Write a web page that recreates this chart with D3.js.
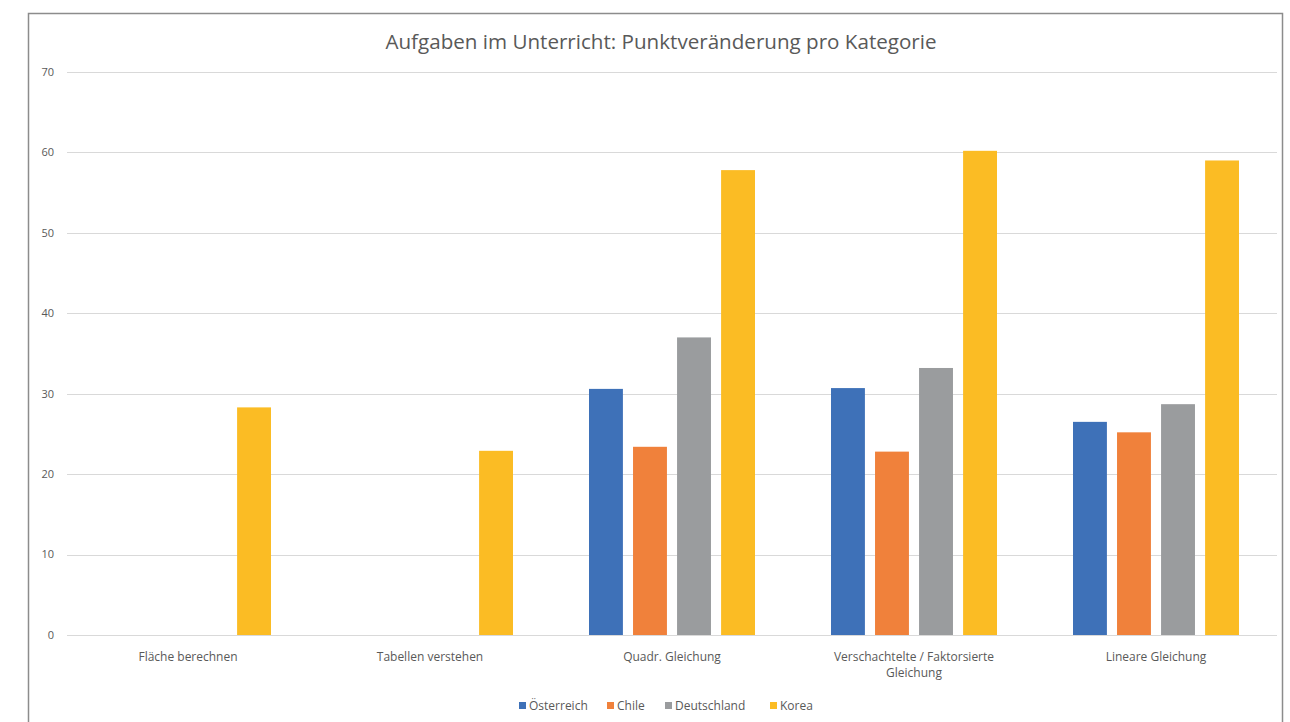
<!DOCTYPE html>
<html><head><meta charset="utf-8">
<script src="https://cdn.jsdelivr.net/npm/d3@7"></script>
<style>
body{margin:0;background:#fff;}
svg{display:block;font-family:"Open Sans","Liberation Sans",sans-serif;}
</style></head>
<body>
<svg id="chart" width="1290" height="722"></svg>
<script>
const categories = [
  ["Fläche berechnen"],
  ["Tabellen verstehen"],
  ["Quadr. Gleichung"],
  ["Verschachtelte / Faktorsierte", "Gleichung"],
  ["Lineare Gleichung"]
];
const seriesNames = ["Österreich", "Chile", "Deutschland", "Korea"];
const oesterreich = [null, null, 30.6, 30.7, 26.5];
const chile       = [null, null, 23.4, 22.8, 25.2];
const deutschland = [null, null, 37.0, 33.2, 28.7];
const korea       = [28.3, 22.9, 57.8, 60.2, 59.0];
const yTicks = [0, 10, 20, 30, 40, 50, 60, 70];
const title = "Aufgaben im Unterricht: Punktveränderung pro Kategorie";

(function () {
const seriesValues = [oesterreich, chile, deutschland, korea];
const colors = ["#3e71b8", "#f0813b", "#9a9c9e", "#fbbc24"];

const svg = d3.select("#chart");
svg.append("rect").attr("x", 28.5).attr("y", 13.5).attr("width", 1254).attr("height", 740)
  .attr("fill", "#fff").attr("stroke", "#8c8c8c").attr("stroke-width", 1.5);

const pl = 67, pr = 1277, pt = 72, pb = 635;
const x0 = d3.scaleBand().domain(d3.range(categories.length)).range([pl, pr]).padding(0);
const groupHalf = 83;
const x1 = d3.scaleBand().domain(d3.range(seriesNames.length)).range([-groupHalf, groupHalf]).paddingInner(0.23).paddingOuter(0);
const y = d3.scaleLinear().domain([0, 70]).range([pb, pt]);

svg.append("g").selectAll("line").data(yTicks).join("line")
  .attr("x1", pl).attr("x2", pr)
  .attr("y1", d => Math.round(y(d)) + 0.5).attr("y2", d => Math.round(y(d)) + 0.5)
  .attr("stroke", "#d9d9d9").attr("stroke-width", 1.2);

svg.append("g").selectAll("text").data(yTicks).join("text")
  .attr("x", 54).attr("y", d => y(d)).attr("dy", "0.35em")
  .attr("text-anchor", "end").attr("font-size", 11).attr("fill", "#595959")
  .text(d => d);

const groups = svg.append("g").selectAll("g").data(categories).join("g")
  .attr("transform", (d, i) => `translate(${x0(i) + x0.bandwidth() / 2},0)`);
groups.selectAll("rect")
  .data((d, i) => seriesValues.map((s, j) => ({ j, v: s[i] })).filter(e => e.v != null))
  .join("rect")
  .attr("x", d => x1(d.j)).attr("width", x1.bandwidth())
  .attr("y", d => y(d.v)).attr("height", d => y(0) - y(d.v))
  .attr("fill", d => colors[d.j]);

groups.append("text")
  .attr("text-anchor", "middle").attr("font-size", 12).attr("fill", "#595959")
  .selectAll("tspan").data(d => d).join("tspan")
  .attr("x", 0).attr("y", (d, k) => 661 + k * 16)
  .text(d => d);

svg.append("text").attr("x", 661).attr("y", 49).attr("text-anchor", "middle")
  .attr("font-size", 20.6).attr("fill", "#595959").text(title);

const legendX = [519, 607, 665, 770];
const lg = svg.append("g").selectAll("g").data(seriesNames).join("g")
  .attr("transform", (d, i) => `translate(${legendX[i]},706)`);
lg.append("rect").attr("x", 0).attr("y", -4).attr("width", 7).attr("height", 7)
  .attr("fill", (d, i) => colors[i]);
lg.append("text").attr("x", 10).attr("y", 0).attr("dy", "0.35em")
  .attr("font-size", 12).attr("fill", "#595959").text(d => d);
})();
</script>
</body></html>
